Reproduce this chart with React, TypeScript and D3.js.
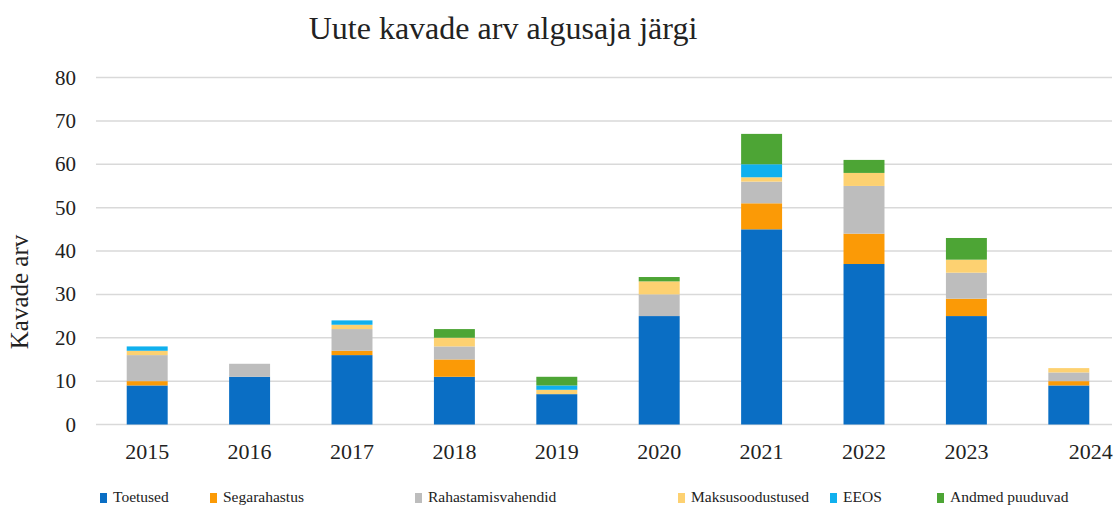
import React from "react";
import * as d3 from "d3";

const years = ["2015", "2016", "2017", "2018", "2019", "2020", "2021", "2022", "2023", "2024"];
const seriesNames = ["Toetused", "Segarahastus", "Rahastamisvahendid", "Maksusoodustused", "EEOS", "Andmed puuduvad"];
const toetused = [9, 11, 16, 11, 7, 25, 45, 37, 25, 9];
const segarahastus = [1, 0, 1, 4, 0, 0, 6, 7, 4, 1];
const rahastamisvahendid = [6, 3, 5, 3, 0, 5, 5, 11, 6, 2];
const maksusoodustused = [1, 0, 1, 2, 1, 3, 1, 3, 3, 1];
const eeos = [1, 0, 1, 0, 1, 0, 3, 0, 0, 0];
const andmedPuuduvad = [0, 0, 0, 2, 2, 1, 7, 3, 5, 0];
const yTicks = [0, 10, 20, 30, 40, 50, 60, 70, 80];
const colors = ["#0a6ec4", "#fb9a06", "#bdbdbd", "#fdd171", "#10b0ee", "#4da535"];
const legendX = [100, 210, 415, 678, 830, 937];

const W = 1119;
const H = 508;
const font = "Liberation Serif, DejaVu Serif, Times New Roman, serif";

export default function App() {
  const all = [toetused, segarahastus, rahastamisvahendid, maksusoodustused, eeos, andmedPuuduvad];
  const rows = years.map((y, i) => {
    const r: any = { year: y };
    seriesNames.forEach((s, k) => (r[s] = all[k][i]));
    return r;
  });
  const stack = d3.stack<any>().keys(seriesNames)(rows);
  const x = d3.scaleBand().domain(years).range([96, 1120]).paddingInner(0.6).paddingOuter(0.3);
  const y = d3.scaleLinear().domain([0, 80]).range([424.5, 77.5]);

  return (
    <svg width={W} height={H} style={{ position: "absolute", left: 0, top: 0, background: "#fff" }}>
      <rect x={0} y={0} width={W} height={H} fill="#fff" />
      <text x={503} y={39} textAnchor="middle" style={{ fontFamily: font }} fontSize={32} fill="#222">
        Uute kavade arv algusaja järgi
      </text>
      {yTicks.map((t) => (
        <g key={t}>
          <line x1={96} x2={1112} y1={y(t)} y2={y(t)} stroke="#d9d9d9" strokeWidth={1.5} />
          <text x={76} y={y(t) + 7} textAnchor="end" style={{ fontFamily: font }} fontSize={21} fill="#222">
            {t}
          </text>
        </g>
      ))}
      <text
        transform={`translate(28,292) rotate(-90)`}
        textAnchor="middle"
        style={{ fontFamily: font }}
        fontSize={25}
        fill="#222"
      >
        Kavade arv
      </text>
      {stack.map((layer, k) => (
        <g key={layer.key} fill={colors[k]}>
          {layer.map((d, i) =>
            d[1] - d[0] > 0 ? (
              <rect
                key={i}
                x={x(years[i])!}
                width={x.bandwidth()}
                y={y(d[1])}
                height={y(d[0]) - y(d[1])}
              />
            ) : null
          )}
        </g>
      ))}
      {years.map((yr, i) => (
        <text
          key={yr}
          x={x(yr)! + x.bandwidth() / 2 + (i === years.length - 1 ? 22 : 0)}
          y={459}
          textAnchor="middle"
          style={{ fontFamily: font }}
          fontSize={22}
          fill="#222"
        >
          {yr}
        </text>
      ))}
      {seriesNames.map((s, k) => (
        <g key={s}>
          <rect x={legendX[k]} y={493} width={7} height={10} fill={colors[k]} />
          <text x={legendX[k] + 13} y={502} style={{ fontFamily: font }} fontSize={15.5} fill="#222">
            {s}
          </text>
        </g>
      ))}
    </svg>
  );
}
